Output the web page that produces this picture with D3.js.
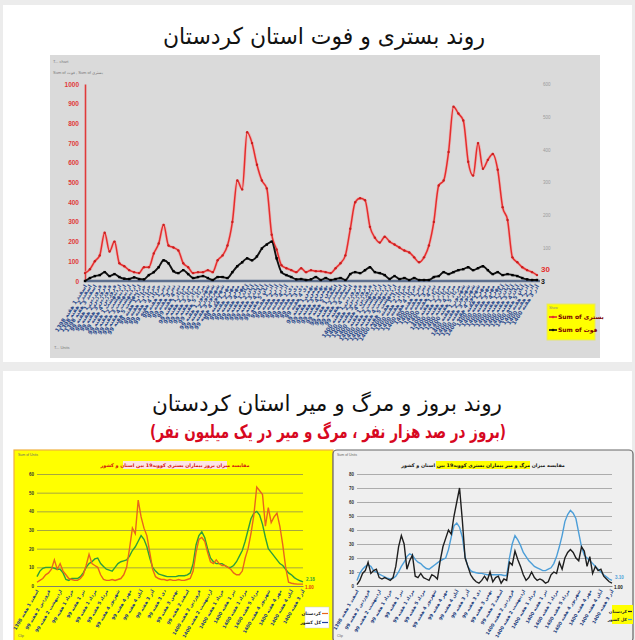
<!DOCTYPE html>
<html><head><meta charset="utf-8">
<script src="https://cdn.jsdelivr.net/npm/d3@7"></script>
<style>body{margin:0;background:#ececec;}svg{display:block;}</style>
</head><body>
<svg id="c" width="635" height="640"></svg>
<script>
// ---------- DATA ----------
const hospitalized = [40,60,100,130,245,150,200,90,75,55,45,40,70,70,140,190,285,180,170,155,90,70,40,45,45,55,45,105,130,180,300,510,465,755,700,590,510,470,235,160,80,65,55,45,65,45,55,50,50,45,40,65,90,130,265,400,420,410,275,220,195,225,200,185,170,155,145,120,95,120,180,300,485,510,655,885,850,815,605,535,700,570,615,645,565,375,310,120,95,70,55,45,30];
const deaths = [0,9,15,18,27,15,21,12,7,6,11,6,5,18,27,42,63,54,30,24,33,21,9,12,15,9,3,12,12,9,27,45,57,69,63,75,99,111,120,69,27,18,12,5,6,3,5,12,3,9,3,6,9,3,21,27,24,33,42,27,24,18,6,15,6,9,3,9,3,3,3,12,15,27,21,27,33,36,42,33,39,45,33,21,27,18,21,18,15,9,5,3,3];
const incidenceProvince = [2,3,4,6,7,9,14,9,12,8,6,4,3.5,3,3,4,6,11,17,12,11,10,6,3.5,3,3,3.5,3,3.5,4,6,10,20,31,28,46,37,31,27,18,9,5,4,3.5,3.5,3,3.5,3,3,3.5,3,3,3.5,4,8,18,25,26,24,18,13,12,14,12,11,11,10,9,7,6,6,8,15,20,28,38,53,51,49,32,42,34,37,39,32,22,10,2,1.5,1.2,1,1,1];
const incidenceCountry = [5,8,9.5,10,10,10,9.5,9,9,7,3.5,3,4,4,4,5,7,10,12,13,14.5,15,12,10.5,9,8.5,8,10,12,13,13.5,14,16,19,21,24,27,25,21,15,10,8,6.5,6,5.5,5,5,5,5,5.5,5.5,5.5,6,7,12,22,27,29,26,20,15,13,12,12,12,11,10,10,11,13,16,19,24,30,36,39,40,38,33,26,20,18,16,14,12,11,9,7,6,4.5,3.5,2.8,2.2];
const mortalityProvince = [1,4,9,11,17,9,11,12,6,5,6,5,4,6,14,28,36,30,12,18,22,7,6,9,6,5,4,8,7,5,18,28,34,40,37,50,60,70,47,20,14,8,5,3,2,4,7,4,10,3,6,7,2,5,4,17,15,25,19,14,8,4,6,10,6,4,5,4,2,3,8,10,9,17,12,20,24,26,24,20,18,28,25,14,21,9,14,11,12,7,5,3,2];
const mortalityCountry = [4,9,12,14,15,14,11,10,8.5,7.5,6.5,5.5,5,5.5,7,10,14,17,21,23,22,19,17,16,14,12.5,12,13.5,15,16.5,18,19,20,26,35,43,45,42,35,21,14,11,10,9.5,9,9,8.5,8,8,8,8,8,8,7.5,7.5,20,30,36,33,29,24,21,18,16,14,13,12,11,11,12,13,16,21,28,36,46,51,54,52,48,38,28,22,20,18,16,14,12,10,8,6.5,5,4];
// week labels: [year, month, number of weeks]
const labelMonths = [["1398","اسفند",3],["99","فروردین",4],["99","اردیبهشت",5],["99","خرداد",4],["99","تیر",4],["99","مرداد",5],["99","شهریور",4],["99","مهر",4],["99","آبان",5],["99","آذر",4],["99","دی",4],["99","بهمن",5],["99","اسفند",4],["1400","فروردین",4],["1400","اردیبهشت",5],["1400","خرداد",4],["1400","تیر",4],["1400","مرداد",5],["1400","شهریور",4],["1400","مهر",4],["1400","آبان",5],["1400","آذر",3]];
const leftTicks = [0,100,200,300,400,500,600,700,800,900,1000];
const rightTicks = [100,200,300,400,500,600];
const incTicks = [0,10,20,30,40,50,60];
const mortTicks = [0,10,20,30,40,50,60,70,80];
const titleTop = "روند بستری و فوت استان کردستان";
const titleBottom = "روند بروز و مرگ و میر استان کردستان";
const subtitleBottom = "(بروز در صد هزار نفر ، مرگ و میر در یک میلیون نفر)";
const legendTop = ["Sum of بستری","Sum of فوت"];
const incTitle = "مقایسه میزان بروز بیماران بستری کووید19 بین استان و کشور";
const mortTitle = "مقایسه میزان مرگ و میر بیماران بستری کووید19 بین استان و کشور";
const legendBottom = ["کردستان","کل کشور"];
const endLabels = {hosp:"30", death:"3", incC:"2.18", incP:"1.00", mortC:"3.10", mortP:"1.00"};

const weekLabels = [];
labelMonths.forEach(([y,m,n]) => { for (let w=1; w<=n; w++) weekLabels.push(y+" "+m+" "+w+" هفته"); });

// ---------- DRAW ----------
const svg = d3.select("#c");
const AR = "DejaVu Sans", LAT = "Liberation Sans";
const N = hospitalized.length;
const idx = d3.range(N);

// panels
svg.append("rect").attr("x",3).attr("y",5).attr("width",629).attr("height",357).attr("fill","#fff");
svg.append("rect").attr("x",3).attr("y",371).attr("width",629).attr("height",269).attr("fill","#fff");

svg.append("text").attr("x",324).attr("y",44).attr("text-anchor","middle")
  .attr("font-family",AR).attr("font-size",23).attr("fill","#111")
  .attr("textLength",322).attr("lengthAdjust","spacingAndGlyphs").text(titleTop);

// ---- top chart ----
svg.append("rect").attr("x",50).attr("y",55).attr("width",550).attr("height",303).attr("fill","#dadada");
svg.append("text").attr("x",53).attr("y",63).attr("font-family",LAT).attr("font-size",4).attr("fill","#777").text("T... chart");
svg.append("text").attr("x",53).attr("y",74).attr("font-family",LAT).attr("font-size",4).attr("fill","#777").text("Sum of فوت , Sum of بستری");
svg.append("text").attr("x",54).attr("y",349).attr("font-family",LAT).attr("font-size",4).attr("fill","#777").text("T... Units");

const xT = d3.scalePoint().domain(idx).range([85,537]);
const yL = d3.scaleLinear().domain([0,1000]).range([281,84]);
const yR = d3.scaleLinear().domain([0,600]).range([281,84]);

const axL = svg.append("g").attr("transform","translate(85,0)")
  .call(d3.axisLeft(yL).tickValues(leftTicks).tickSize(0).tickPadding(6).tickFormat(d3.format("d")));
axL.select(".domain").attr("stroke","#e03a3a").attr("stroke-width",1.6);
axL.selectAll("text").attr("font-family",LAT).attr("font-size",6.5).attr("font-weight","bold").attr("fill","#e03a3a");

const axR = svg.append("g").attr("transform","translate(540,0)")
  .call(d3.axisRight(yR).tickValues(rightTicks).tickSize(0).tickPadding(3));
axR.select(".domain").remove();
axR.selectAll("text").attr("font-family",LAT).attr("font-size",4.5).attr("fill","#9a9a9a");

const axB = svg.append("g").attr("transform","translate(0,281)")
  .call(d3.axisBottom(xT).tickSize(0).tickFormat(i=>weekLabels[i]));
axB.select(".domain").attr("stroke","#5d6f8e").attr("stroke-width",2.4).attr("d","M85,0H540");
axB.selectAll("text").attr("font-family",AR).attr("font-size",5.5).attr("font-weight","bold").attr("fill","#2b4a8c")
  .attr("text-anchor","end").attr("transform","translate(0,4) rotate(-58)").attr("dy","0.35em").attr("y",0);

const lineH = d3.line().x((d,i)=>xT(i)).y(d=>yL(d)).curve(d3.curveMonotoneX);
const lineD = d3.line().x((d,i)=>xT(i)).y(d=>yR(d)).curve(d3.curveMonotoneX);
svg.append("path").attr("d",lineH(hospitalized)).attr("fill","none").attr("stroke","#f4a0a0").attr("stroke-width",3).attr("opacity",0.6);
svg.append("path").attr("d",lineH(hospitalized)).attr("fill","none").attr("stroke","#e52d2d").attr("stroke-width",1.5);
svg.append("g").selectAll("circle").data(hospitalized).join("circle")
  .attr("cx",(d,i)=>xT(i)).attr("cy",d=>yL(d)).attr("r",1.2).attr("fill","#c81e1e");
svg.append("path").attr("d",lineD(deaths)).attr("fill","none").attr("stroke","#111").attr("stroke-width",1.9);
svg.append("g").selectAll("rect").data(deaths).join("rect")
  .attr("x",(d,i)=>xT(i)-1.2).attr("y",d=>yR(d)-1.2).attr("width",2.4).attr("height",2.4).attr("fill","#000");
svg.append("text").attr("x",541).attr("y",272).attr("font-family",LAT).attr("font-size",8).attr("font-weight","bold").attr("fill","#e52d2d").text(endLabels.hosp);
svg.append("text").attr("x",541).attr("y",284).attr("font-family",LAT).attr("font-size",7).attr("font-weight","bold").attr("fill","#111").text(endLabels.death);

// top legend
const lg = svg.append("g");
lg.append("rect").attr("x",547).attr("y",304).attr("width",48).attr("height",36).attr("fill","#ffff00").attr("stroke","#e6e66a");
lg.append("text").attr("x",549).attr("y",309).attr("font-family",LAT).attr("font-size",3.5).attr("fill","#888").text("Show");
[["#e52d2d",319],["#111",332]].forEach(([c,y],k)=>{
  lg.append("line").attr("x1",549).attr("x2",557).attr("y1",y-2).attr("y2",y-2).attr("stroke",c).attr("stroke-width",1.6);
  lg.append("circle").attr("cx",553).attr("cy",y-2).attr("r",1.3).attr("fill",c);
  lg.append("text").attr("x",558).attr("y",y).attr("font-family",AR).attr("font-size",6).attr("font-weight","bold").attr("fill","#7a0000").text(legendTop[k]);
});

// ---- bottom titles ----
svg.append("text").attr("x",327).attr("y",411).attr("text-anchor","middle")
  .attr("font-family",AR).attr("font-size",22).attr("fill","#111")
  .attr("textLength",350).attr("lengthAdjust","spacingAndGlyphs").text(titleBottom);
svg.append("text").attr("x",328).attr("y",438).attr("text-anchor","middle")
  .attr("font-family",AR).attr("font-size",18.5).attr("font-weight","bold").attr("fill","#d7081f")
  .attr("textLength",356).attr("lengthAdjust","spacingAndGlyphs").text(subtitleBottom);

// ---- bottom charts ----
function smallChart(o){
  const g = svg.append("g");
  g.append("rect").attr("x",o.bx).attr("y",450).attr("width",o.bw).attr("height",192).attr("fill",o.bg)
    .attr("stroke",o.border).attr("stroke-width",1.2).attr("rx",o.rx||0);
  g.append("text").attr("x",o.bx+4).attr("y",456).attr("font-family",LAT).attr("font-size",3.5).attr("fill","#666").text("Sum of Units");
  g.append("text").attr("x",o.bx+4).attr("y",637).attr("font-family",LAT).attr("font-size",3.5).attr("fill","#666").text("Clip");
  const x = d3.scalePoint().domain(idx).range([o.x0,o.x1]);
  const y = d3.scaleLinear().domain([0,o.max]).range([586,474]);
  const ga = g.append("g").attr("transform",`translate(${o.x0},0)`)
    .call(d3.axisLeft(y).tickValues(o.ticks).tickSize(-(o.x1-o.x0)).tickPadding(3));
  ga.select(".domain").remove();
  ga.selectAll("line").attr("stroke",o.grid).attr("stroke-width",0.8);
  ga.selectAll("text").attr("font-family",LAT).attr("font-size",4.5).attr("font-weight","bold").attr("fill","#333");
  const gx = g.append("g").attr("transform","translate(0,586)")
    .call(d3.axisBottom(x).tickValues(idx.filter(i=>i%4===0)).tickSize(0).tickFormat(i=>weekLabels[i]));
  gx.select(".domain").attr("stroke","#777").attr("stroke-width",0.8);
  gx.selectAll("text").attr("font-family",AR).attr("font-size",4.6).attr("font-weight","bold").attr("fill","#23407e")
    .attr("text-anchor","end").attr("transform","translate(0,4) rotate(-60)").attr("dy","0.35em").attr("y",0);
  // title box
  const tw = o.titleW;
  g.append("rect").attr("x",o.tcx-tw/2).attr("y",461).attr("width",tw).attr("height",8).attr("fill",o.tbg);
  g.append("text").attr("x",o.tcx).attr("y",467).attr("text-anchor","middle").attr("font-family",AR).attr("font-size",4.8)
    .attr("font-weight","bold").attr("fill",o.tcol).text(o.title);
  const ln = d3.line().x((d,i)=>x(i)).y(d=>y(d));
  g.append("path").attr("d",ln(o.s2)).attr("fill","none").attr("stroke",o.c2).attr("stroke-width",1.4);
  g.append("path").attr("d",ln(o.s1)).attr("fill","none").attr("stroke",o.c1).attr("stroke-width",1.4);
  g.append("text").attr("x",o.x1+3).attr("y",y(o.s2[N-1])-1).attr("font-family",LAT).attr("font-size",4.5).attr("font-weight","bold").attr("fill",o.c2).text(o.l2);
  g.append("text").attr("x",o.x1+2).attr("y",589).attr("font-family",LAT).attr("font-size",4.5).attr("font-weight","bold").attr("fill",o.lc1).text(o.l1);
  return g;
}
smallChart({bx:14,bw:319,bg:"#ffff00",border:"#f0b040",x0:37,x1:303,max:60,ticks:incTicks,grid:"#8f8f50",
  tcx:175,titleW:104,tbg:"#fde3e3",tcol:"#d01010",title:incTitle,
  s1:incidenceProvince,c1:"#e8661c",s2:incidenceCountry,c2:"#2f9e3a",l2:endLabels.incC,l1:endLabels.incP,lc1:"#e23a1a"});
// left legend (clipped by right chart)
svg.append("rect").attr("x",305).attr("y",607).attr("width",24).attr("height",21).attr("fill","#fff").attr("stroke","#ccc").attr("stroke-width",0.5);
[["#e8661c",615],["#1f3fa0",624]].forEach(([c,yy],k)=>{
  svg.append("text").attr("x",321).attr("y",yy).attr("text-anchor","end").attr("font-family",AR).attr("font-size",4.5).attr("font-weight","bold").attr("fill","#222").text(legendBottom[k]);
  svg.append("line").attr("x1",322).attr("x2",328).attr("y1",yy-1.5).attr("y2",yy-1.5).attr("stroke",c).attr("stroke-width",1.2);
});
smallChart({bx:333,bw:300,bg:"#efefef",border:"#666",rx:4,x0:357,x1:612,max:80,ticks:mortTicks,grid:"#9a9a9a",
  tcx:483,titleW:94,tbg:"#ffff00",tcol:"#111",title:mortTitle,
  s1:mortalityProvince,c1:"#1e1e1e",s2:mortalityCountry,c2:"#4c9ed8",l2:endLabels.mortC,l1:endLabels.mortP,lc1:"#111"});
// right legend
svg.append("rect").attr("x",612).attr("y",605).attr("width",21).attr("height",19).attr("fill","#ffff00");
[["#222",613],["#4c9ed8",621]].forEach(([c,yy],k)=>{
  svg.append("text").attr("x",627).attr("y",yy).attr("text-anchor","end").attr("font-family",AR).attr("font-size",4.2).attr("font-weight","bold").attr("fill","#222").text(legendBottom[k]);
  svg.append("line").attr("x1",628).attr("x2",632).attr("y1",yy-1.5).attr("y2",yy-1.5).attr("stroke",c).attr("stroke-width",1.2);
});
</script>
</body></html>
